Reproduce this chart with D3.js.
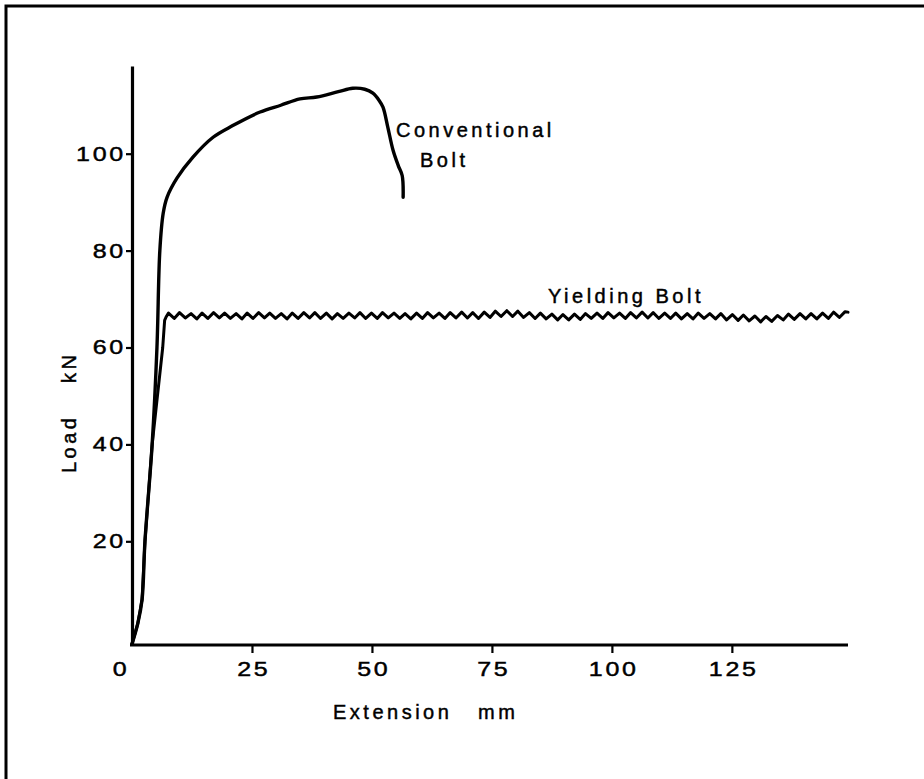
<!DOCTYPE html>
<html>
<head>
<meta charset="utf-8">
<script src="https://cdn.jsdelivr.net/npm/d3@7"></script>
<style>
  html, body { margin: 0; padding: 0; background: #fff; }
  svg { display: block; }
  text { font-family: "Liberation Sans", Arial, Helvetica, sans-serif; fill: #000; }
</style>
</head>
<body>
<svg id="chart" width="924" height="779"></svg>
<script>
// ---- data ----
const xTickValues = [0, 25, 50, 75, 100, 125];
const yTickValues = [20, 40, 60, 80, 100];

// Conventional bolt: extension (mm), load (kN)
const conventionalX = [0, 1.2, 2.1, 2.7, 4.2, 5.2, 5.8, 6.5, 7.3, 9.4, 12.7, 16.9, 21, 26.7, 31, 35, 38.5, 43, 46, 48.5, 50.2, 51.5, 52.3, 53.3, 54.4, 55.5, 56.3, 56.5];
const conventionalY = [-1.2, 3, 8, 20, 40, 60, 80, 87.7, 91, 95, 99.3, 103.4, 105.8, 108.6, 110, 111.3, 111.7, 112.8, 113.5, 113.3, 112.5, 111, 109.6, 105.5, 100.7, 97.5, 95.5, 91];

// Yielding bolt: initial elastic rise
const yieldRiseX = [0, 1.2, 2.1, 2.7, 4.2, 6.4, 6.8, 7.1];
const yieldRiseY = [-1.2, 3, 8, 20, 40, 60, 65.6, 66.3];
// Yielding bolt: serrated plateau (peaks and troughs)
const yieldWaveX = [7.6, 8.8, 9.9, 11.1, 12.3, 13.5, 14.6, 15.8, 17.0, 18.2, 19.3, 20.5, 21.7, 22.9, 24.0, 25.2, 26.4, 27.6, 28.7, 29.9,
  31.1, 32.3, 33.4, 34.6, 35.8, 37.0, 38.1, 39.3, 40.5, 41.7, 42.8, 44.0, 45.2, 46.4, 47.5, 48.7, 49.9, 51.1, 52.2, 53.4,
  54.6, 55.8, 56.9, 58.1, 59.3, 60.5, 61.6, 62.8, 64.0, 65.2, 66.3, 67.5, 68.7, 69.9, 71.0, 72.2, 73.4, 74.6, 75.7, 76.9,
  78.1, 79.3, 80.4, 81.6, 82.8, 84.0, 85.1, 86.3, 87.5, 88.7, 89.8, 91.0, 92.2, 93.4, 94.5, 95.7, 96.9, 98.1, 99.2, 100.4,
  101.6, 102.8, 103.9, 105.1, 106.3, 107.5, 108.6, 109.8, 111.0, 112.2, 113.3, 114.5, 115.7, 116.9, 118.0, 119.2, 120.4, 121.6, 122.7, 123.9,
  125.1, 126.3, 127.4, 128.6, 129.8, 131.0, 132.1, 133.3, 134.5, 135.7, 136.8, 138.0, 139.2, 140.4, 141.5, 142.7, 143.9, 145.1, 146.2, 147.4,
  148.6, 149.2];
const yieldWaveY = [67.1, 66.0, 67.2, 66.1, 67.0, 65.9, 67.1, 66.0, 67.2, 66.1, 67.1, 66.0, 67.0, 65.9, 67.1, 66.0, 67.2, 66.1, 67.1, 66.0,
  67.0, 65.9, 67.1, 66.0, 67.2, 66.1, 67.2, 66.0, 67.1, 65.9, 67.0, 66.0, 67.1, 66.1, 67.2, 66.0, 67.1, 66.0, 67.2, 66.1,
  67.1, 66.0, 67.0, 65.9, 67.1, 66.0, 67.2, 66.1, 67.1, 66.0, 67.2, 66.1, 67.3, 66.1, 67.2, 66.0, 67.3, 66.2, 67.5, 66.4,
  67.6, 66.4, 67.5, 66.2, 67.2, 66.0, 67.1, 65.9, 66.9, 65.7, 66.8, 65.7, 66.9, 65.8, 67.0, 66.0, 67.1, 66.0, 67.2, 66.1,
  67.1, 66.0, 67.2, 66.1, 67.3, 66.1, 67.2, 66.0, 67.1, 66.0, 67.1, 65.9, 67.0, 65.9, 67.1, 66.0, 67.0, 65.9, 67.0, 65.7,
  66.8, 65.6, 66.7, 65.5, 66.5, 65.3, 66.4, 65.4, 66.6, 65.7, 66.9, 65.8, 67.0, 65.9, 67.0, 65.9, 67.1, 66.0, 67.3, 66.2,
  67.4, 67.3];

const xLabel1 = "Extension", xLabel2 = "mm";
const yLabel1 = "Load", yLabel2 = "kN";
const conventionalLabel = ["Conventional", "Bolt"];
const yieldingLabel = "Yielding Bolt";

// ---- drawing ----
const svg = d3.select("#chart");
const x = d3.scaleLinear().domain([0, 149.2]).range([132, 848]);
const y = d3.scaleLinear().domain([-1.4, 118.1]).range([645, 66]);

// frame (top and left edge)
svg.append("path").attr("d", "M6,779V6H924").attr("fill", "none").attr("stroke", "#000").attr("stroke-width", 3);

const fontSize = 20, ls = 3.5;
const digitScale = 1.25, digitLs = 2.2;

// x axis
const gx = svg.append("g").attr("transform", "translate(0,645)")
  .call(d3.axisBottom(x).tickValues(xTickValues).tickSize(8).tickSizeOuter(0).tickFormat(d3.format("d")));
gx.select(".domain").attr("stroke-width", 3.2).attr("d", "M130,0H848");
gx.selectAll(".tick line").attr("stroke-width", 2.2).filter(d => d === 0).remove();
gx.selectAll(".tick text").attr("font-size", fontSize).attr("letter-spacing", digitLs)
  .attr("y", 0).attr("dy", "0.71em")
  .attr("transform", d => `translate(${d === 0 ? -11.5 : 1.4},17) scale(${digitScale},1)`)
  .attr("font-family", null).attr("stroke", "#000").attr("stroke-width", 0.45);

// y axis
const gy = svg.append("g").attr("transform", "translate(132,0)")
  .call(d3.axisLeft(y).tickValues(yTickValues).tickSize(6).tickSizeOuter(0).tickFormat(d3.format("d")));
gy.select(".domain").attr("stroke-width", 3.2);
gy.selectAll(".tick line").attr("stroke-width", 2.2);
gy.selectAll(".tick text").attr("font-size", fontSize).attr("letter-spacing", digitLs)
  .attr("x", 0).attr("transform", `translate(-6,0) scale(${digitScale},1)`)
  .attr("font-family", null).attr("stroke", "#000").attr("stroke-width", 0.45);
svg.selectAll(".tick text").attr("fill", "#000");

// curves
const conventional = conventionalX.map((v, i) => [v, conventionalY[i]]);
const rise = yieldRiseX.map((v, i) => [v, yieldRiseY[i]]);
const wave = yieldWaveX.map((v, i) => [v, yieldWaveY[i]]);

const lineSmooth = d3.line().x(d => x(d[0])).y(d => y(d[1])).curve(d3.curveCatmullRom.alpha(0.5));
const lineLin = d3.line().x(d => x(d[0])).y(d => y(d[1]));

svg.append("path").attr("d", lineSmooth(conventional)).attr("fill", "none")
  .attr("stroke", "#000").attr("stroke-width", 3.4).attr("stroke-linejoin", "round").attr("stroke-linecap", "round");
svg.append("path").attr("d", lineLin(rise.concat(wave))).attr("fill", "none")
  .attr("stroke", "#000").attr("stroke-width", 3).attr("stroke-linejoin", "round").attr("stroke-linecap", "round");

// labels
function lbl(t, px, py, rot) {
  const e = svg.append("text").text(t).attr("font-size", fontSize).attr("letter-spacing", ls)
    .attr("stroke", "#000").attr("stroke-width", 0.45);
  if (rot) e.attr("transform", `translate(${px},${py}) rotate(${rot})`);
  else e.attr("x", px).attr("y", py);
  return e;
}
lbl(xLabel1, 333, 719);
lbl(xLabel2, 478, 719);
lbl(yLabel1, 76, 473, -90);
lbl(yLabel2, 76, 383, -90);
lbl(conventionalLabel[0], 396, 137);
lbl(conventionalLabel[1], 420, 167);
lbl(yieldingLabel, 548, 303);
</script>
</body>
</html>
